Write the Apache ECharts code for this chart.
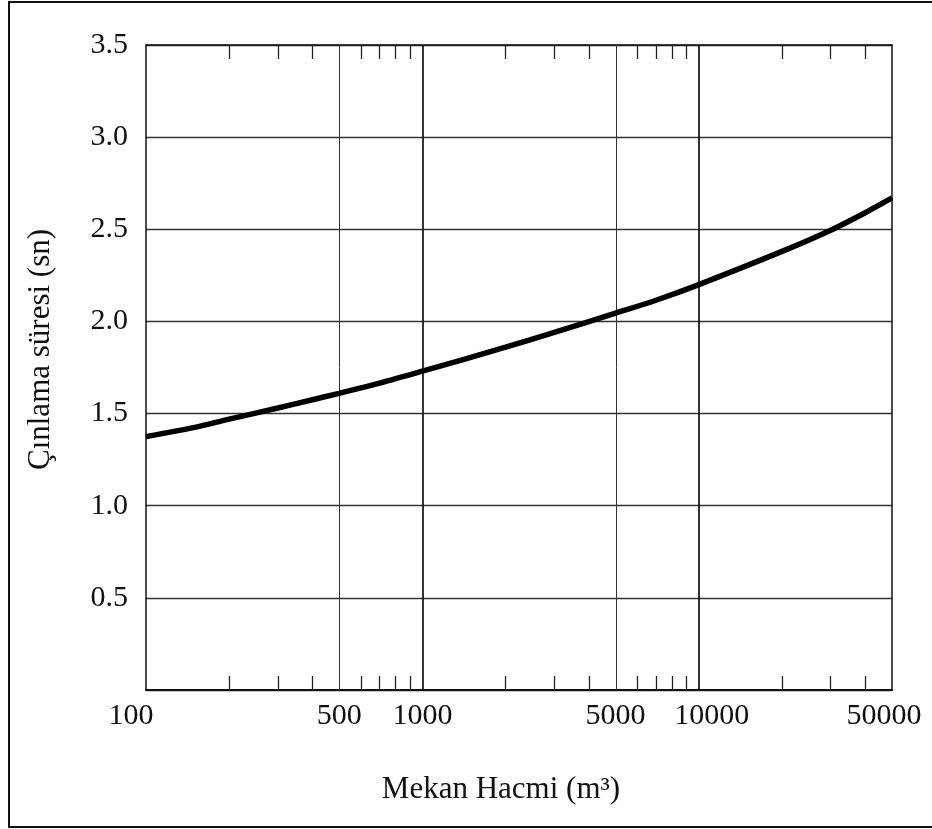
<!DOCTYPE html>
<html><head><meta charset="utf-8">
<script src="https://cdn.jsdelivr.net/npm/echarts@6/dist/echarts.min.js"></script>
<style>html,body{margin:0;padding:0;background:#fff}#c{width:932px;height:829px}</style>
</head><body><div id="c"></div>
<script>
// Data
const volumes = [100,150,200,300,400,500,700,1000,2000,3000,5000,7000,10000,20000,30000,40000,50000];
const reverbTimes = [1.375,1.425,1.47,1.53,1.575,1.61,1.665,1.73,1.86,1.94,2.045,2.115,2.20,2.38,2.495,2.59,2.67];
const xLabelValues = [100,500,1000,5000,10000,50000];
const xMinorTicks = [200,300,400,600,700,800,900,2000,3000,4000,6000,7000,8000,9000,20000,30000,40000];
const xGridLight = [500,5000];
const xGridDark = [1000,10000];
const xMin = 100, xMax = 50000;
const yMin = 0, yMax = 3.5, yStep = 0.5;
const xTitle = 'Mekan Hacmi (m³)';
const yTitle = 'Çınlama süresi (sn)';

const L = v => Math.log10(v);
const FONT = "'Liberation Serif','Times New Roman',serif";
const TXT = '#111';

const chart = echarts.init(document.getElementById('c'), null, {renderer:'canvas'});
const lineData = volumes.map((v,i)=>[L(v), reverbTimes[i]]);

// small per-label nudges to mimic the reference placement
const labelStyleKey = {100:'l', 500:'c', 1000:'c', 5000:'c', 10000:'r', 50000:'l2'};

const tickStyle = () => ({show:true, inside:true, length:14, customValues:xMinorTicks.map(L), lineStyle:{color:'#222', width:1.3}});

chart.setOption({
  animation:false,
  backgroundColor:'#fff',
  graphic:[{type:'rect', shape:{x:9, y:2, width:940, height:825}, style:{fill:'none', stroke:'#111', lineWidth:2}, silent:true}],
  grid:{left:146, right:40, top:45, bottom:139, containLabel:false},
  xAxis:[
    {
      type:'value', min:L(xMin), max:L(xMax), position:'bottom',
      splitLine:{show:false},
      axisLine:{show:true, onZero:false, lineStyle:{color:'#111', width:2}},
      name:xTitle, nameLocation:'middle', nameGap:84,
      nameTextStyle:{fontFamily:FONT, fontSize:31, color:TXT, padding:[0,36,0,0]},
      axisTick:tickStyle(),
      axisLabel:{show:true, margin:11, fontFamily:FONT, fontSize:30, color:TXT,
        customValues:xLabelValues.map(L),
        formatter:v=>{const n=Math.round(Math.pow(10,v)); return '{'+(labelStyleKey[n]||'c')+'|'+n+'}';},
        rich:{
          c:{fontFamily:FONT, fontSize:30, color:TXT},
          l:{fontFamily:FONT, fontSize:30, color:TXT, padding:[0,30,0,0]},
          l2:{fontFamily:FONT, fontSize:30, color:TXT, padding:[0,16,0,0]},
          r:{fontFamily:FONT, fontSize:30, color:TXT, padding:[0,0,0,26]}
        }}
    },
    {
      type:'value', min:L(xMin), max:L(xMax), position:'top',
      splitLine:{show:false},
      axisLine:{show:true, onZero:false, lineStyle:{color:'#111', width:1.5}},
      axisTick:tickStyle(),
      axisLabel:{show:false}
    }
  ],
  yAxis:[
    {
      type:'value', min:yMin, max:yMax, interval:yStep,
      name:yTitle, nameLocation:'middle', nameGap:90,
      nameTextStyle:{fontFamily:FONT, fontSize:31, color:TXT, padding:[0,0,0,36]},
      axisLine:{show:true, onZero:false, lineStyle:{color:'#111', width:1.5}},
      axisTick:{show:false},
      axisLabel:{margin:18, fontFamily:FONT, fontSize:30, color:TXT,
        formatter:v=> v===0 ? '' : v.toFixed(1)},
      splitLine:{show:true, lineStyle:{color:'#333', width:1.3}}
    },
    {
      type:'value', min:yMin, max:yMax, interval:yStep, position:'right',
      axisLine:{show:true, onZero:false, lineStyle:{color:'#111', width:1.5}},
      axisTick:{show:false}, axisLabel:{show:false}, splitLine:{show:false}
    }
  ],
  series:[
    {
      type:'line', xAxisIndex:0, yAxisIndex:0,
      data:lineData, smooth:0.3, showSymbol:false, symbol:'none',
      lineStyle:{color:'#000', width:5.5},
      silent:true,
      markLine:{
        silent:true, symbol:['none','none'], label:{show:false},
        data:[
          ...xGridLight.map(v=>({xAxis:L(v), lineStyle:{color:'#333', width:1, type:'solid'}})),
          ...xGridDark.map(v=>({xAxis:L(v), lineStyle:{color:'#111', width:1.7, type:'solid'}}))
        ]
      },
      z:5
    },
    {
      type:'line', xAxisIndex:1, yAxisIndex:1, data:[], silent:true, showSymbol:false
    }
  ]
});
</script></body></html>
